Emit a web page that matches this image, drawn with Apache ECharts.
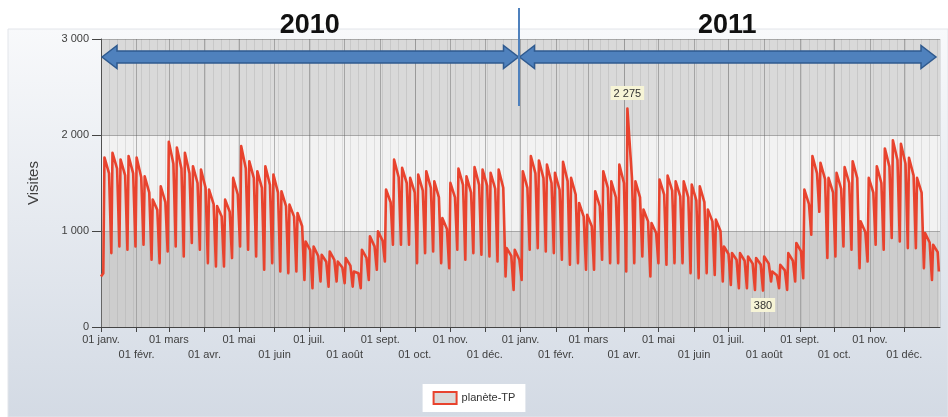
<!DOCTYPE html>
<html>
<head>
<meta charset="utf-8">
<script src="https://cdn.jsdelivr.net/npm/echarts@6/dist/echarts.min.js"></script>
<style>html,body{margin:0;padding:0;background:#fff}#c{width:948px;height:417px}</style>
</head>
<body>
<div id="c"></div>
<script>
// ---- Data (daily visits, planète-TP, 2010-2011) ----
// For each week (Monday = week start, first Monday 04 janv. 2010):
// Sunday just before the Monday, the Monday peak, and the Friday value.
const sundayLows = [
  560, 770, 840, 805, 840, 857, 700, 665, 787, 840,
  735, 875, 805, 665, 630, 630, 718, 839, 805, 735,
  596, 665, 578, 561, 578, 491, 404, 474, 421, 474,
  456, 421, 404, 491, 596, 682, 857, 857, 857, 665,
  770, 787, 665, 613, 805, 700, 770, 752, 735, 682,
  526, 387,
  491, 805, 822, 787, 770, 700, 648, 665, 596, 596,
  700, 665, 665, 578, 665, 735, 526, 665, 648, 665,
  665, 561, 509, 561, 543, 474, 439, 404, 404, 387,
  380, 474, 404, 387, 474, 509, 961, 1200, 718, 735,
  839, 805, 613, 682, 857, 805, 927, 891, 822, 822,
  613, 491
];
const mondayPeaks = [
  1766, 1815, 1745, 1780, 1766, 1570, 1327, 1466, 1930, 1870,
  1815, 1675, 1640, 1432, 1260, 1327, 1553, 1884, 1727, 1623,
  1675, 1588, 1414, 1275, 1188, 891, 839, 752, 787, 682,
  718, 578, 805, 944, 996, 1432, 1745, 1658, 1553, 1588,
  1623, 1518, 1136, 1501, 1650, 1570, 1665, 1640, 1606, 1640,
  822, 805,
  1623, 1780, 1735, 1693, 1606, 1721, 1553, 1292, 1170, 1414,
  1623, 1518, 1693, 2275, 1518, 1223, 1084, 1536, 1578, 1518,
  1518, 1484, 1466, 1223, 1118, 839, 770, 770, 735, 718,
  735, 578, 648, 770, 875, 1432, 1780, 1710, 1553, 1606,
  1665, 1727, 1100, 1553, 1675, 1860, 1944, 1909, 1763, 1553,
  979, 857
];
const fridayValues = [
  1600, 1650, 1580, 1600, 1560, 1400, 1220, 1300, 1700, 1650,
  1600, 1500, 1450, 1280, 1150, 1200, 1380, 1650, 1550, 1450,
  1480, 1400, 1260, 1150, 1050, 800, 740, 680, 700, 620,
  640, 560, 720, 840, 900, 1300, 1560, 1500, 1400, 1420,
  1450, 1350, 1020, 1350, 1480, 1400, 1480, 1470, 1440, 1450,
  740, 700,
  1450, 1600, 1550, 1500, 1430, 1520, 1380, 1150, 1050, 1260,
  1450, 1350, 1500, 1550, 1350, 1100, 980, 1380, 1420, 1360,
  1350, 1320, 1300, 1100, 1000, 760, 700, 690, 660, 650,
  660, 540, 590, 690, 790, 1280, 1600, 1540, 1400, 1440,
  1500, 1550, 990, 1400, 1500, 1670, 1740, 1700, 1580, 1400,
  880, 780
];
const firstDayValue = 525;   // 01 janv. 2010
const lastDayValue = 578;    // 31 déc. 2011
const monthNames = ['janv.', 'févr.', 'mars', 'avr.', 'mai', 'juin', 'juil.', 'août', 'sept.', 'oct.', 'nov.', 'déc.'];
const years = ['2010', '2011'];
const seriesName = 'planète-TP';
const yMax = 3000, yStep = 1000;

// ---- Build ----
const DAY = 86400000, T0 = Date.UTC(2010, 0, 1);
const totalDays = (Date.UTC(2012, 0, 1) - T0) / DAY; // 730
const points = [[0, firstDayValue]];
for (let k = 0; k < mondayPeaks.length; k++) {
  points.push([2 + 7 * k, sundayLows[k]]);
  points.push([3 + 7 * k, mondayPeaks[k]]);
  points.push([7 + 7 * k, fridayValues[k]]);
}
points.push([totalDays - 1, lastDayValue]);

const monthStarts = [], monthText = {};
years.forEach(y => {
  for (let m = 0; m < 12; m++) {
    const d = (Date.UTC(+y, m, 1) - T0) / DAY;
    monthStarts.push(d);
    monthText[d] = '01 ' + monthNames[m];
  }
});
const rowA = monthStarts.filter((d, i) => (i % 12) % 2 === 0);   // janv., mars, mai...
const rowB = monthStarts.filter((d, i) => (i % 12) % 2 === 1);   // févr., avr., juin...
const yearStart = (Date.UTC(2011, 0, 1) - T0) / DAY;

function fmt(v) { return String(Math.round(v)).replace(/\B(?=(\d{3})+(?!\d))/g, ' '); }
const monthLabel = v => monthText[Math.round(v)] || '';

const FONT = '"Liberation Sans", Arial, sans-serif';
const chart = echarts.init(document.getElementById('c'), null, { renderer: 'canvas' });

const labelBase = { fontSize: 11, color: '#404040', fontFamily: FONT, hideOverlap: false, showMinLabel: true, showMaxLabel: true, formatter: monthLabel };

const option = {
  animation: false,
  textStyle: { fontFamily: FONT },
  grid: { left: 101, right: 8, top: 39, bottom: 90 },
  legend: {
    data: [seriesName],
    top: 384, left: 'center',
    backgroundColor: '#ffffff',
    padding: [7, 10, 7, 10],
    itemWidth: 23, itemHeight: 12,
    icon: 'rect',
    itemStyle: { color: '#d9d9d9', borderColor: '#e8432e', borderWidth: 2 },
    textStyle: { fontSize: 11, color: '#333', fontFamily: FONT },
    selectedMode: false
  },
  xAxis: [{
    type: 'value', min: 0, max: totalDays,
    axisLine: { show: true, lineStyle: { color: '#444', width: 1 } },
    axisTick: { show: true, customValues: monthStarts, length: 5, lineStyle: { color: '#444' } },
    axisLabel: Object.assign({}, labelBase, { customValues: rowA, margin: 7 }),
    splitLine: { show: false }
  }, {
    type: 'value', min: 0, max: totalDays, interval: 7, position: 'top', z: 1,
    axisLine: { show: false }, axisTick: { show: false }, axisLabel: { show: false },
    splitLine: { show: true, lineStyle: { color: 'rgba(110,110,110,0.16)', width: 1 } }
  }, {
    type: 'value', min: 0, max: totalDays, position: 'bottom',
    axisLine: { show: false }, axisTick: { show: false },
    axisLabel: Object.assign({}, labelBase, { customValues: rowB, margin: 22 }),
    splitLine: { show: false }
  }],
  yAxis: {
    type: 'value', min: 0, max: yMax, interval: yStep,
    name: 'Visites', nameLocation: 'middle', nameGap: 60,
    nameTextStyle: { fontSize: 15, color: '#404040', fontFamily: FONT },
    axisLine: { show: true, lineStyle: { color: '#444', width: 1 } },
    axisTick: { show: true, length: 9, lineStyle: { color: '#444' } },
    axisLabel: { formatter: fmt, fontSize: 11, color: '#404040', margin: 12, fontFamily: FONT },
    splitLine: { show: true, lineStyle: { color: '#a8a8a8', width: 1 } },
    splitArea: { show: true, areaStyle: { color: ['#d9d9d9', '#f2f2f2'] } }
  },
  series: [{
    name: '_months', type: 'line', data: [], z: 1, silent: true,
    markLine: {
      silent: true, symbol: ['none', 'none'], animation: false,
      label: { show: false },
      lineStyle: { color: 'rgba(90,90,90,0.42)', type: 'solid', width: 1 },
      data: monthStarts.map(d => ({ xAxis: d }))
    }
  }, {
    name: seriesName, type: 'line', data: points, z: 5,
    showSymbol: false, symbol: 'none',
    lineStyle: { color: '#e8432e', width: 2.6, join: 'round' },
    itemStyle: { color: '#e8432e' },
    areaStyle: { color: 'rgba(170,170,170,0.35)' },
    markPoint: {
      symbol: 'rect', symbolSize: 1,
      itemStyle: { color: 'rgba(0,0,0,0)' },
      label: {
        show: true, formatter: p => fmt(p.value),
        backgroundColor: '#f6f4d6', padding: [2, 3, 1, 3],
        color: '#333', fontSize: 11, fontFamily: FONT
      },
      data: [
        { type: 'max', label: { position: 'top', distance: 8 } },
        { type: 'min', label: { position: 'bottom', distance: 7 } }
      ]
    }
  }]
};
chart.setOption(option);

// ---- Decorations (year arrows) placed from the axis scale ----
const px = d => chart.convertToPixel({ xAxisIndex: 0 }, d);
const xs = px(0), xm = px(yearStart) - 2, xe = px(totalDays) - 4;
const yc = 57;
function arrow(xa, xb) {
  const hs = 6, hh = 11.5, hl = 15;
  return [[xa, yc], [xa + hl, yc - hh], [xa + hl, yc - hs], [xb - hl, yc - hs], [xb - hl, yc - hh],
          [xb, yc], [xb - hl, yc + hh], [xb - hl, yc + hs], [xa + hl, yc + hs], [xa + hl, yc + hh]];
}
chart.setOption({
  graphic: [
    { type: 'rect', z: -10, silent: true, shape: { x: 8, y: 29, width: 940, height: 388 },
      style: { fill: new echarts.graphic.LinearGradient(0, 0, 0, 1, [
        { offset: 0, color: '#f8f9fb' }, { offset: 1, color: '#d3dae4' }]), stroke: '#e2e5ea', lineWidth: 1 } },
    { type: 'polygon', z: 100, silent: true, shape: { points: arrow(xs + 1, xm) },
      style: { fill: '#4f81bd', stroke: '#2f5a8f', lineWidth: 1.5 } },
    { type: 'polygon', z: 100, silent: true, shape: { points: arrow(xm + 1, xe) },
      style: { fill: '#4f81bd', stroke: '#2f5a8f', lineWidth: 1.5 } },
    { type: 'line', z: 100, silent: true, shape: { x1: xm + 0.5, y1: 8, x2: xm + 0.5, y2: 106 },
      style: { stroke: '#4f81bd', lineWidth: 2 } },
    { type: 'text', z: 101, silent: true, x: (xs + xm) / 2, y: 26,
      style: { text: years[0], fill: '#111', font: 'bold 27px ' + FONT, textAlign: 'center', textVerticalAlign: 'middle' } },
    { type: 'text', z: 101, silent: true, x: (xm + xe) / 2, y: 26,
      style: { text: years[1], fill: '#111', font: 'bold 27px ' + FONT, textAlign: 'center', textVerticalAlign: 'middle' } }
  ]
});
</script>
</body>
</html>
